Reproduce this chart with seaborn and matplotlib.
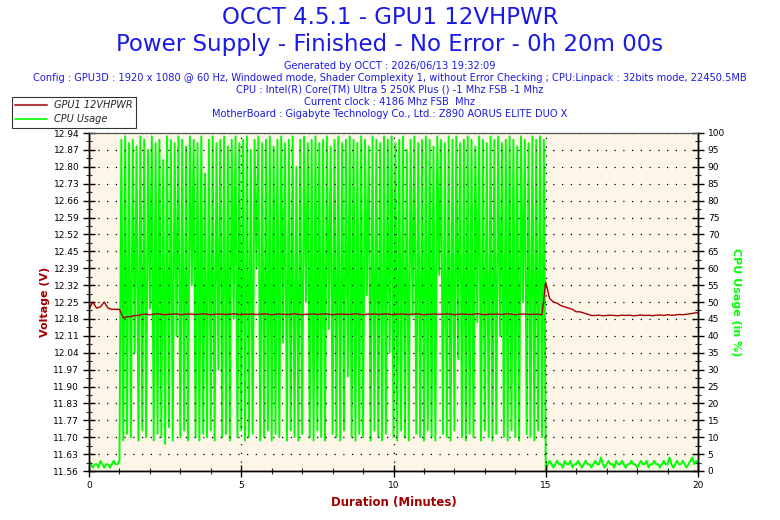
import numpy as np
import matplotlib
matplotlib.use("Agg")
import matplotlib.pyplot as plt
from matplotlib.lines import Line2D
from matplotlib.ticker import MultipleLocator, FixedLocator, AutoMinorLocator
import seaborn as sns

# --- data ---
cpu_step = 0.0625      # minutes between CPU samples
volt_step = 0.125      # minutes between voltage samples

cpu_idle_start = [3, 2, 1, 2, 2, 1, 3, 2, 1, 2, 2, 1, 2, 3, 2, 2, 3]
cpu_load = [
    98, 9, 99, 11, 97, 10, 98, 35, 96, 9, 99, 12, 98, 10, 95, 48, 99, 9, 97, 11,
    98, 10, 92, 8, 99, 13, 98, 9, 97, 40, 99, 10, 98, 12, 96, 9, 99, 55, 98, 10,
    97, 9, 99, 11, 88, 10, 98, 12, 99, 9, 97, 30, 98, 10, 99, 11, 96, 9, 98, 45,
    99, 10, 97, 12, 98, 9, 99, 10, 95, 11, 98, 60, 99, 9, 97, 10, 98, 12, 99, 9,
    96, 11, 98, 10, 99, 38, 97, 9, 98, 12, 99, 10, 90, 9, 98, 11, 99, 50, 97, 10,
    98, 9, 99, 12, 97, 10, 98, 9, 99, 42, 96, 11, 98, 10, 99, 9, 97, 12, 98, 28,
    99, 10, 98, 9, 97, 11, 99, 10, 98, 52, 96, 9, 99, 12, 98, 10, 97, 9, 99, 11,
    98, 35, 99, 10, 97, 9, 98, 12, 99, 10, 95, 9, 98, 46, 99, 11, 97, 10, 98, 9,
    99, 12, 98, 10, 96, 9, 99, 58, 98, 11, 97, 10, 99, 9, 98, 12, 99, 33, 97, 10,
    98, 9, 99, 11, 98, 10, 96, 44, 99, 9, 98, 12, 97, 10, 99, 9, 98, 11, 99, 40,
    97, 10, 98, 9, 99, 12, 98, 10, 96, 9, 99, 50, 98, 11, 97, 10, 99, 9, 98, 12,
    99, 10, 98,
]
cpu_idle_end = [
    0, 2, 3, 2, 1, 2, 3, 2, 2, 1, 3, 2, 2, 3, 1, 2, 2, 3, 2, 1,
    2, 3, 2, 2, 1, 2, 3, 2, 2, 4, 2, 1, 2, 3, 2, 2, 1, 3, 2, 2,
    3, 2, 1, 2, 2, 3, 2, 2, 1, 2, 3, 2, 2, 3, 1, 2, 2, 3, 2, 2,
    1, 2, 3, 2, 2, 4, 2, 1, 2, 3, 2, 2, 3, 2, 1, 2, 3, 4, 2, 3, 2,
]
cpu_usage = cpu_idle_start + cpu_load + cpu_idle_end

voltage = [
    12.22, 12.25, 12.225, 12.23, 12.25, 12.225, 12.22, 12.22, 12.22,
    12.185, 12.19, 12.19, 12.195, 12.195, 12.20, 12.20, 12.198, 12.20, 12.202, 12.20,
    12.198, 12.20, 12.20, 12.202, 12.198, 12.20, 12.201, 12.20, 12.199, 12.20,
    12.202, 12.20, 12.198, 12.20, 12.201, 12.20, 12.199, 12.20, 12.202, 12.20,
    12.198, 12.20, 12.20, 12.201, 12.199, 12.20, 12.202, 12.20, 12.198, 12.20,
    12.201, 12.20, 12.199, 12.20, 12.202, 12.20, 12.198, 12.20, 12.20, 12.201,
    12.199, 12.20, 12.202, 12.20, 12.198, 12.20, 12.201, 12.20, 12.199, 12.20,
    12.202, 12.20, 12.198, 12.20, 12.20, 12.201, 12.199, 12.20, 12.202, 12.20,
    12.198, 12.20, 12.201, 12.20, 12.199, 12.20, 12.202, 12.20, 12.198, 12.20,
    12.20, 12.201, 12.199, 12.20, 12.202, 12.20, 12.198, 12.20, 12.201, 12.20,
    12.199, 12.20, 12.202, 12.20, 12.198, 12.20, 12.20, 12.201, 12.199, 12.20,
    12.202, 12.20, 12.198, 12.20, 12.201, 12.20, 12.199, 12.20, 12.20, 12.198,
    12.33, 12.265, 12.25, 12.245, 12.235, 12.23, 12.225, 12.22, 12.21, 12.21,
    12.205, 12.20, 12.195, 12.195, 12.196, 12.194, 12.195, 12.196, 12.195, 12.194,
    12.196, 12.195, 12.196, 12.194, 12.195, 12.197, 12.195, 12.196, 12.194, 12.196,
    12.197, 12.195, 12.198, 12.196, 12.197, 12.199, 12.198, 12.20, 12.202, 12.205,
    12.206,
]

volt_labels = ["11.56", "11.63", "11.70", "11.77", "11.83", "11.90", "11.97",
               "12.04", "12.11", "12.18", "12.25", "12.32", "12.39", "12.45",
               "12.52", "12.59", "12.66", "12.73", "12.80", "12.87", "12.94"]
volt_min, volt_max = 11.56, 12.94

title_lines = ["OCCT 4.5.1 - GPU1 12VHPWR",
               "Power Supply - Finished - No Error - 0h 20m 00s"]
info_lines = [
    "Generated by OCCT : 2026/06/13 19:32:09",
    "Config : GPU3D : 1920 x 1080 @ 60 Hz, Windowed mode, Shader Complexity 1, without Error Checking ; CPU:Linpack : 32bits mode, 22450.5MB",
    "CPU : Intel(R) Core(TM) Ultra 5 250K Plus () -1 Mhz FSB -1 Mhz",
    "Current clock : 4186 Mhz FSB  Mhz",
    "MotherBoard : Gigabyte Technology Co., Ltd.: Z890 AORUS ELITE DUO X",
]

cpu_minutes = np.arange(len(cpu_usage)) * cpu_step
volt_minutes = np.arange(len(voltage)) * volt_step

sns.set_style("white")
plt.rcParams["font.family"] = ["DejaVu Sans"]

RED = "#a00000"
GREEN = "#00ff00"
BLUE = "#1a1ae6"

fig = plt.figure(figsize=(7.8, 5.2), dpi=100)
ax = fig.add_axes([89 / 780, 49 / 520, 609 / 780, 338 / 520])
ax.set_facecolor("#fdf6e8")
ax_v = ax.twinx()

# CPU usage (drawn underneath, axis on the right)
sns.lineplot(x=cpu_minutes, y=cpu_usage, ax=ax, color=GREEN, linewidth=1.4,
             legend=False, estimator=None)
ax.set_xlim(0, 20)
ax.set_ylim(0, 100)
ax.yaxis.set_major_locator(MultipleLocator(5))
ax.yaxis.set_minor_locator(AutoMinorLocator(2))
ax.xaxis.set_major_locator(MultipleLocator(5))
ax.xaxis.set_minor_locator(MultipleLocator(1))
ax.set_axisbelow(False)
ax.grid(True, which="major", color="black", linestyle=(0, (1, 6)), linewidth=0.9)
ax.set_xlabel("Duration (Minutes)", color=RED, fontsize=8.5, fontweight="bold")
ax.xaxis.set_label_coords(0.5, -0.074)

# Voltage (drawn on top, axis on the left)
sns.lineplot(x=volt_minutes, y=voltage, ax=ax_v, color=RED, linewidth=1.0,
             legend=False, estimator=None)
ax_v.set_xlim(0, 20)
ax_v.set_ylim(volt_min, volt_max)
ax_v.yaxis.set_major_locator(FixedLocator(np.linspace(volt_min, volt_max, len(volt_labels))))
ax_v.set_yticklabels(volt_labels)
ax_v.yaxis.set_minor_locator(AutoMinorLocator(2))

# put the CPU axis on the right and voltage on the left
ax.yaxis.tick_right()
ax.yaxis.set_label_position("right")
ax_v.yaxis.tick_left()
ax_v.yaxis.set_label_position("left")

ax.set_ylabel("CPU Usage (in %)", color=GREEN, fontsize=8, fontweight="bold",
              rotation=-90, va="center")
ax.yaxis.set_label_coords((736 - 89) / 609, 0.5)
ax_v.set_ylabel("Voltage (V)", color=RED, fontsize=8, fontweight="bold",
                va="center")
ax_v.yaxis.set_label_coords((45 - 89) / 609, 0.5)

for a in (ax, ax_v):
    a.tick_params(which="major", direction="inout", length=8, width=1,
                  labelsize=6.5, colors="black", pad=3)
    a.tick_params(which="minor", direction="inout", length=4, width=0.8)
    for side in ("left", "right", "bottom"):
        a.spines[side].set_color("black")
        a.spines[side].set_linewidth(1)
    a.spines["top"].set_color("#505050")
ax_v.tick_params(axis="y", which="both", left=True, right=False,
                 labelleft=True, labelright=False)
ax.tick_params(axis="y", which="both", left=False, right=True,
               labelleft=False, labelright=True)
ax.tick_params(axis="x", which="both", bottom=True)

# titles
fig.text(0.5, 1 - 18 / 520, title_lines[0], ha="center", va="center",
         color=BLUE, fontsize=16.5)
fig.text(0.5, 1 - 44 / 520, title_lines[1], ha="center", va="center",
         color=BLUE, fontsize=16.5)
for i, line in enumerate(info_lines):
    fig.text(0.5, 1 - (66 + 12 * i) / 520, line, ha="center", va="center",
             color=BLUE, fontsize=7.1)

# legend
handles = [Line2D([], [], color="#b04040", linewidth=1.5),
           Line2D([], [], color=GREEN, linewidth=1.2)]
leg = fig.legend(handles, ["GPU1 12VHPWR", "CPU Usage"], loc="upper left",
                 bbox_to_anchor=(12 / 780, 1 - 97 / 520), frameon=True,
                 fancybox=False, prop={"size": 7, "style": "italic"},
                 handlelength=3.2, borderpad=0.35, labelspacing=0.4,
                 borderaxespad=0)
leg.get_frame().set_edgecolor("black")
leg.get_frame().set_linewidth(0.8)
leg.get_frame().set_facecolor("white")

fig.savefig("out.png", dpi=100, facecolor="white")
